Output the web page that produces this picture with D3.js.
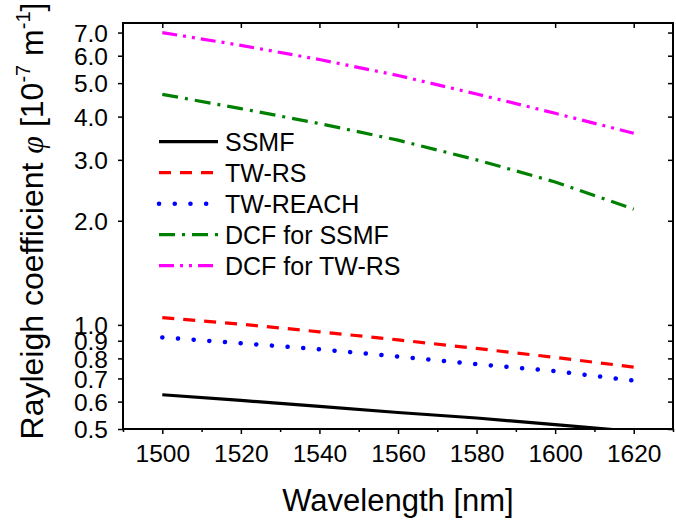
<!DOCTYPE html>
<html>
<head>
<meta charset="utf-8">
<script src="https://cdn.jsdelivr.net/npm/d3@7"></script>
<style>
  html, body { margin: 0; padding: 0; background: #fff; }
  svg { display: block; font-family: "Liberation Sans", Arial, sans-serif; }
</style>
</head>
<body>
<svg id="chart" width="676" height="527"></svg>
<script>
// ---- data ----
const wavelengths = [1500, 1520, 1540, 1560, 1580, 1600, 1620];
const ssmf        = [0.628, 0.605, 0.581, 0.558, 0.538, 0.515, 0.492];
const twRS        = [1.05, 1.005, 0.955, 0.905, 0.855, 0.805, 0.755];
const twREACH     = [0.92, 0.885, 0.85, 0.81, 0.77, 0.735, 0.69];
const dcfSSMF     = [4.64, 4.22, 3.82, 3.42, 3.0, 2.59, 2.16];
const dcfTWRS     = [7.0, 6.43, 5.85, 5.26, 4.65, 4.09, 3.58];
const seriesNames = ["SSMF", "TW-RS", "TW-REACH", "DCF for SSMF", "DCF for TW-RS"];
const xTicks      = [1500, 1520, 1540, 1560, 1580, 1600, 1620];
const xMinorTicks = [1490, 1510, 1530, 1550, 1570, 1590, 1610, 1630];
const yTicks      = [0.5, 0.6, 0.7, 0.8, 0.9, 1.0, 2.0, 3.0, 4.0, 5.0, 6.0, 7.0];

// ---- layout ----
const L = 123, R = 673, T = 23, B = 429;
const svg = d3.select("#chart");

const x = d3.scaleLinear().domain([1490, 1630]).range([L, R]);
const y = d3.scaleLog().domain([0.5, 7.46]).range([B, T]);

const styles = [
  { color: "#000000", dash: null, cap: "butt" },
  { color: "#ff0000", dash: "12,9", cap: "butt" },
  { color: "#0000ff", dash: "0.1,15.6", cap: "round" },
  { color: "#008000", dash: "16,7,3,7", cap: "butt" },
  { color: "#ff00ff", dash: "15,6,3,6,3,6", cap: "butt" }
];
const allSeries = [ssmf, twRS, twREACH, dcfSSMF, dcfTWRS];

// clip
svg.append("defs").append("clipPath").attr("id", "clip")
  .append("rect").attr("x", L).attr("y", T).attr("width", R - L).attr("height", B - T);

const line = d3.line().x((d, i) => x(wavelengths[i])).y(d => y(d));
const g = svg.append("g").attr("clip-path", "url(#clip)");
allSeries.forEach((s, k) => {
  const st = styles[k];
  g.append("path").datum(s)
    .attr("d", line)
    .attr("fill", "none")
    .attr("stroke", st.color)
    .attr("stroke-width", k === 2 ? 4.5 : 3.2)
    .attr("stroke-linecap", st.cap)
    .attr("stroke-dasharray", st.dash);
});

// axes
const fmt = d3.format(".1f");
svg.append("g").attr("transform", `translate(0,${B})`)
  .call(d3.axisBottom(x).tickValues(xTicks).tickSize(5).tickSizeOuter(0).tickPadding(11).tickFormat(d3.format("d")));
svg.append("g").attr("transform", `translate(0,${B})`)
  .call(d3.axisBottom(x).tickValues(xMinorTicks).tickSize(3).tickSizeOuter(0).tickFormat(""));
svg.append("g").attr("transform", `translate(0,${T})`)
  .call(d3.axisTop(x).tickValues(xTicks).tickSize(-5).tickSizeOuter(0).tickFormat(""));
const left = svg.append("g").attr("transform", `translate(${L},0)`)
  .call(d3.axisLeft(y).tickValues(yTicks).tickSize(5).tickSizeOuter(0).tickPadding(10).tickFormat(fmt));
svg.append("g").attr("transform", `translate(${R},0)`)
  .call(d3.axisRight(y).tickValues(yTicks).tickSize(-5).tickSizeOuter(0).tickFormat(""));

svg.selectAll(".domain").remove();
svg.selectAll(".tick line").attr("stroke", "#000").attr("stroke-width", 1.5);
svg.selectAll(".tick text")
  .attr("font-family", "'Liberation Sans', Arial, sans-serif")
  .attr("font-size", 24.5).attr("fill", "#000");
left.selectAll(".tick text").attr("dy", "0.36em");

// frame
svg.append("rect").attr("x", L).attr("y", T).attr("width", R - L).attr("height", B - T)
  .attr("fill", "none").attr("stroke", "#000").attr("stroke-width", 2);

// legend
const lg = svg.append("g");
const legY0 = 141.7, legDy = 31;
seriesNames.forEach((name, k) => {
  const st = styles[k];
  const yy = legY0 + k * legDy;
  lg.append("line").attr("x1", 159).attr("x2", 218).attr("y1", yy).attr("y2", yy)
    .attr("stroke", st.color).attr("stroke-width", k === 2 ? 4.5 : 3.2)
    .attr("stroke-linecap", st.cap).attr("stroke-dasharray", st.dash);
  lg.append("text").attr("x", 225).attr("y", yy).attr("dy", "0.36em")
    .attr("font-size", 25).attr("fill", "#000").text(name);
});

// axis titles
svg.append("text").attr("x", (L + R) / 2).attr("y", 511)
  .attr("text-anchor", "middle").attr("font-size", 31).attr("fill", "#000")
  .text("Wavelength [nm]");

const yt = svg.append("text")
  .attr("transform", "translate(43,221) rotate(-90)")
  .attr("text-anchor", "middle").attr("font-size", 32).attr("fill", "#000");
yt.append("tspan").text("Rayleigh coefficient ");
yt.append("tspan").attr("font-family", "'Liberation Serif', 'Times New Roman', serif")
  .attr("font-style", "italic").text("φ");
yt.append("tspan").text(" [10");
yt.append("tspan").attr("font-size", 20).attr("dy", -13).text("-7");
yt.append("tspan").attr("dy", 13).text(" m");
yt.append("tspan").attr("font-size", 20).attr("dy", -13).text("-1");
yt.append("tspan").attr("dy", 13).text("]");
</script>
</body>
</html>
